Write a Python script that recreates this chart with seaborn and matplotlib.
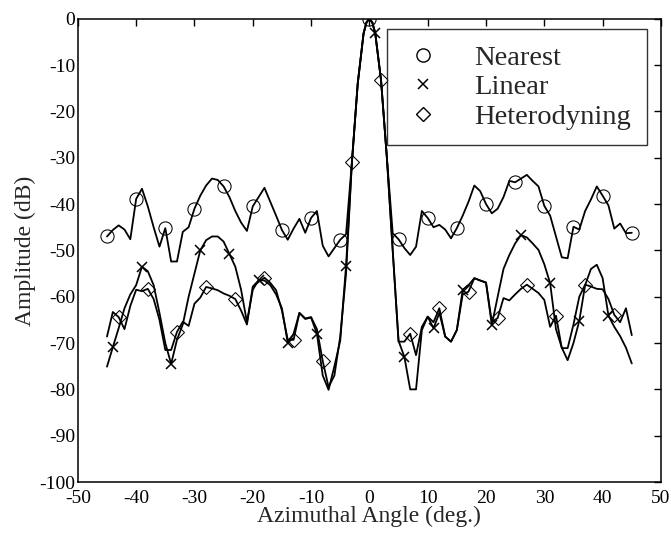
import numpy as np
import pandas as pd
import matplotlib
matplotlib.use("Agg")
import matplotlib.pyplot as plt
from matplotlib.lines import Line2D
import seaborn as sns

# ---- data ----
angles = np.concatenate([np.arange(-45, 0), [-0.5, 0.0, 0.5], np.arange(1, 46)]).astype(float)

nearest = [-47.0, -45.6, -44.6, -45.5, -47.6, -38.9, -36.7, -40.5, -45.0, -49.2,
           -45.2, -52.4, -52.4, -46.0, -45.0, -41.0, -38.2, -36.0, -34.5, -34.8,
           -36.2, -38.5, -41.5, -44.0, -45.8, -40.5, -38.5, -36.5, -39.5, -42.5,
           -45.6, -47.7, -45.3, -43.2, -46.2, -43.0, -41.5, -49.0, -51.3, -49.5,
           -47.7, -46.5, -31.0, -14.0, -3.2,
           -0.8, 0.0, -0.8,
           -3.1, -13.3, -30.0, -46.3, -47.6, -49.5, -51.0, -49.2, -41.5, -43.0,
           -45.0, -44.5, -45.5, -47.4, -45.2, -42.5, -39.5, -36.0, -37.2, -40.0,
           -42.0, -41.0, -38.5, -35.0, -35.3, -34.5, -33.7, -35.0, -36.2, -40.4,
           -42.5, -47.0, -51.5, -51.7, -44.9, -45.5, -41.5, -39.0, -36.2, -38.2,
           -40.3, -45.3, -44.2, -46.3, -46.2]

linear = [-75.1, -70.9, -66.8, -62.5, -59.5, -57.5, -53.5, -54.5, -57.5, -63.5,
          -70.0, -74.5, -69.3, -66.0, -60.0, -55.0, -50.0, -47.8, -47.0, -47.0,
          -48.1, -50.8, -53.5, -58.5, -65.5, -58.5, -56.4, -56.5, -57.5, -59.5,
          -62.5, -70.0, -68.0, -63.5, -64.8, -64.5, -68.0, -77.0, -80.1, -75.0,
          -69.5, -53.3, -31.0, -14.0, -3.2,
          -0.8, 0.0, -0.8,
          -3.1, -13.3, -30.0, -50.0, -69.5, -73.0, -80.0, -80.0, -67.2, -64.3,
          -66.8, -63.5, -68.6, -69.7, -67.2, -58.5, -57.5, -56.0, -56.5, -57.0,
          -66.1, -60.0, -54.0, -51.0, -48.5, -46.7, -47.2, -48.5, -49.9, -53.0,
          -57.1, -67.0, -71.0, -73.7, -70.0, -65.2, -57.5, -54.0, -53.1, -56.0,
          -64.1, -66.5, -68.5, -71.0, -74.4]

hetero = [-68.6, -63.3, -64.4, -67.0, -62.0, -58.5, -58.8, -58.3, -60.5, -65.0,
          -71.5, -71.5, -67.6, -65.4, -66.3, -61.5, -60.2, -57.9, -58.2, -58.6,
          -59.3, -59.8, -60.5, -63.0, -66.0, -57.8, -56.8, -55.9, -57.0, -58.6,
          -63.0, -69.3, -69.3, -63.5, -64.7, -64.4, -67.0, -73.9, -79.5, -77.0,
          -68.6, -55.0, -31.0, -14.0, -3.2,
          -0.8, 0.0, -0.8,
          -3.1, -13.3, -30.0, -50.0, -69.7, -69.7, -68.0, -72.6, -66.5, -64.3,
          -65.5, -62.5, -68.6, -69.7, -67.2, -59.5, -58.9, -56.0, -56.5, -56.9,
          -65.5, -64.6, -60.3, -60.8, -59.5, -58.3, -57.4, -58.3, -59.2, -60.7,
          -66.5, -64.1, -71.1, -71.1, -66.0, -60.0, -57.4, -57.8, -58.3, -58.4,
          -60.5, -63.9, -65.5, -62.5, -68.3]

series_names = ["Nearest", "Linear", "Heterodyning"]
marker_offsets = [0, 1, 2]          # markers every 5 deg, shifted per series
x_ticks = list(range(-50, 51, 10))
y_ticks = list(range(-100, 1, 10))

# ---- style ----
sns.set_style("white")
plt.rcParams["font.family"] = ["Liberation Serif", "DejaVu Serif"]

fig = plt.figure(figsize=(6.71, 5.35), dpi=100)
ax = fig.add_axes([0.116, 0.099, 0.869, 0.866])

styles = [
    dict(marker="o", markersize=9.5, markerfacecolor="none"),
    dict(marker="x", markersize=6.5, markeredgewidth=1.1),
    dict(marker="D", markersize=7.0, markerfacecolor="none"),
]

isint = np.isclose(angles, np.round(angles))
for vals, off, st in zip([nearest, linear, hetero], marker_offsets, styles):
    mask = isint & (np.mod(np.round(angles) - off, 5) == 0)
    df = pd.DataFrame({"angle": angles, "amp": vals})
    sns.lineplot(data=df, x="angle", y="amp", ax=ax, color="black",
                 linewidth=1.3, estimator=None, sort=False,
                 markevery=list(mask), markeredgecolor="black", **st)

ax.set_xlim(-50, 50)
ax.set_ylim(-100, 0)
ax.set_xticks(x_ticks)
ax.set_yticks(y_ticks)
ax.set_xticklabels([str(t) for t in x_ticks])
ax.set_yticklabels([str(t) for t in y_ticks])
ax.tick_params(direction="in", length=5, width=1, top=True, right=True,
               labelsize=14, colors="black")
ax.tick_params(axis="x", pad=6)
ax.tick_params(axis="y", pad=2)
for s in ax.spines.values():
    s.set_visible(True)
    s.set_color("black")
    s.set_linewidth(1.1)

ax.set_xlabel("Azimuthal Angle (deg.)", fontsize=17, labelpad=-1)
ax.set_ylabel("Amplitude (dB)", fontsize=17, labelpad=2)

handles = [
    Line2D([], [], linestyle="none", color="black", marker="o", markersize=9.5, markerfacecolor="none"),
    Line2D([], [], linestyle="none", color="black", marker="x", markersize=6.5, markeredgewidth=1.1),
    Line2D([], [], linestyle="none", color="black", marker="D", markersize=7.0, markerfacecolor="none"),
]
leg = ax.legend(handles, series_names, loc="upper right", bbox_to_anchor=(0.976, 0.978),
                borderaxespad=0, fancybox=False, frameon=True, fontsize=20.5,
                handlelength=1.4, handletextpad=1.12, labelspacing=0.13,
                borderpad=0.55, edgecolor="black")
leg.get_frame().set_linewidth(1.0)

fig.savefig("out.png", dpi=100)
